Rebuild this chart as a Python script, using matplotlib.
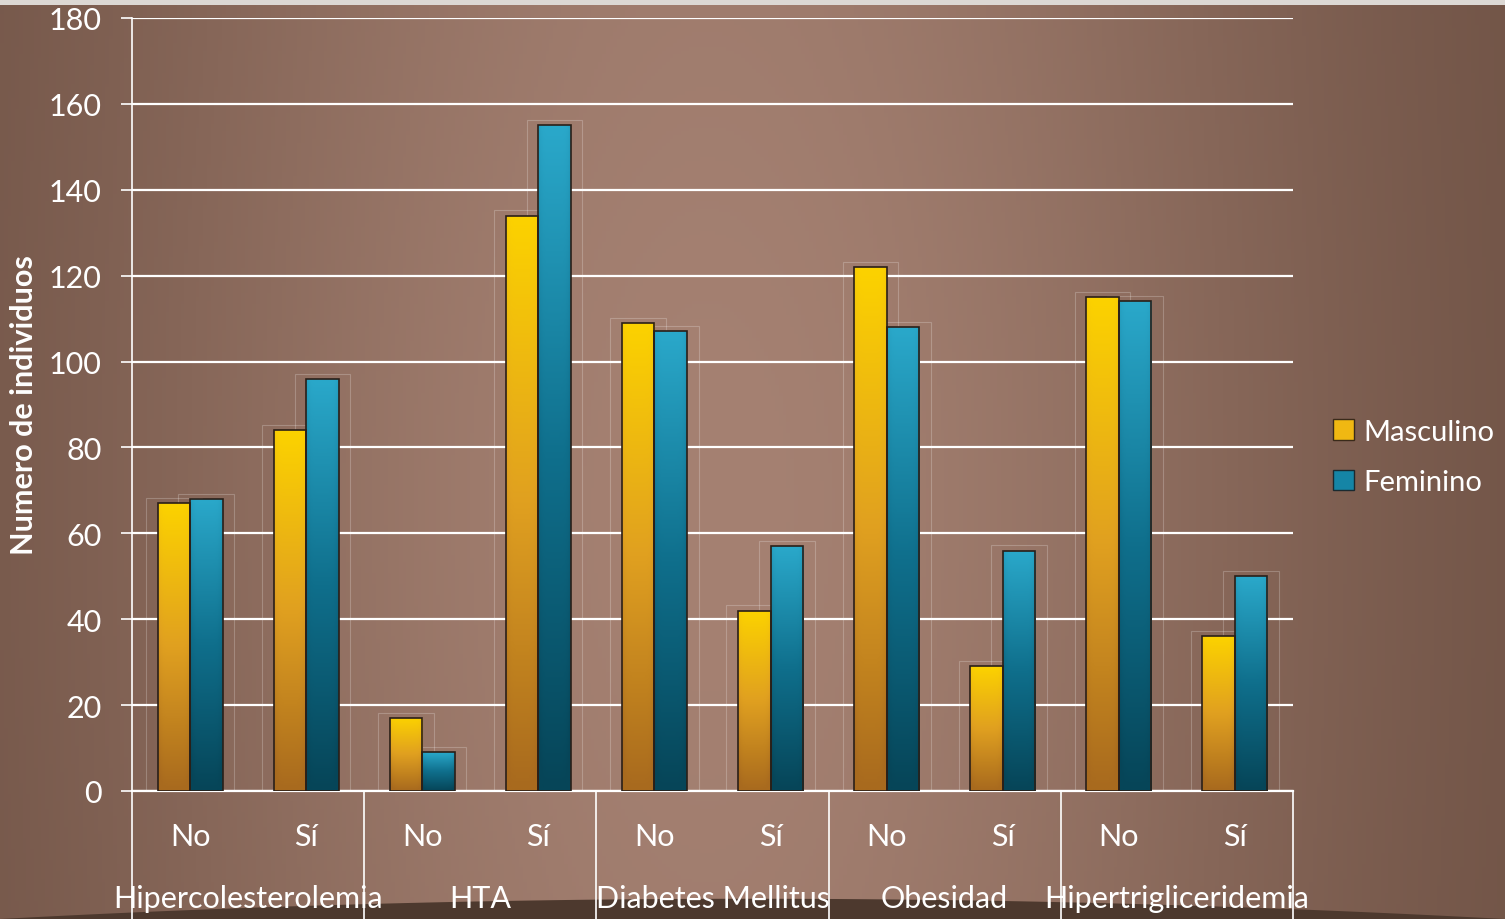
"""
Factores de riesgo por sexo: número de individuos (gráfico de barras agrupadas).
"""

import numpy as np
import matplotlib
matplotlib.use("Agg")
import matplotlib.pyplot as plt
from matplotlib.patches import Rectangle, Patch, Polygon
from matplotlib.colors import LinearSegmentedColormap

# Datos
grupos = ["Hipercolesterolemia", "HTA", "Diabetes Mellitus", "Obesidad", "Hipertrigliceridemia"]
respuestas = ["No", "Sí"]
masculino = [67, 84, 17, 134, 109, 42, 122, 29, 115, 36]
femenino = [68, 96, 9, 155, 107, 57, 108, 56, 114, 50]
series = ["Masculino", "Feminino"]
y_ticks = list(range(0, 181, 20))

plt.rcParams['font.family'] = ['Lato', 'DejaVu Sans']
FS = 22

fig = plt.figure(figsize=(15.05, 9.2), dpi=100)

# Fondo marrón con degradado
bg = fig.add_axes([0, 0, 1, 1], zorder=-10)
bg.set_axis_off()
xx = np.linspace(0, 1, 400)
yy = np.linspace(0, 1, 250)
X, Y = np.meshgrid(xx, yy)
t = np.exp(-((X - 0.47) / 0.42) ** 2) * (0.85 + 0.15 * np.exp(-((Y - 0.55) / 0.6) ** 2))
c_osc = np.array([0x68, 0x4c, 0x3f]) / 255
c_cla = np.array([0xa5, 0x81, 0x72]) / 255
img = c_osc[None, None, :] + (c_cla - c_osc)[None, None, :] * t[:, :, None]
bg.imshow(img, extent=[0, 1, 0, 1], origin='upper', aspect='auto')
# suelo oscuro y franja superior
arco_x = np.linspace(0, 1, 100)
arco_y = 0.0 + 0.022 * (1 - ((arco_x - 0.5) / 0.5) ** 2)
bg.add_patch(Polygon(np.column_stack([np.r_[arco_x, 1, 0], np.r_[arco_y, 0, 0]]),
                     closed=True, facecolor='#4d392e', edgecolor='none'))
bg.add_patch(Rectangle((0, 0.993), 1, 0.007, facecolor='#dcd8d4', edgecolor='none'))
bg.set_xlim(0, 1)
bg.set_ylim(0, 1)

ax = fig.add_axes([132 / 1505, 128 / 920, 1161 / 1505, 773 / 920])
ax.patch.set_alpha(0)

x = np.arange(len(masculino))
ancho = 0.28

cmap_m = LinearSegmentedColormap.from_list('m', ['#a86a1e', '#e0a020', '#fcd200'])
cmap_f = LinearSegmentedColormap.from_list('f', ['#064558', '#0f6f8c', '#2aa8ca'])
grad = np.linspace(0, 1, 100)[:, None] * np.ones((1, 20))
borde = np.abs(np.linspace(-1, 1, 20))[None, :]
grad = np.clip(grad - 0.08 * (borde ** 6), 0, 1)

for valores, offset, cmap in [(masculino, -ancho / 2, cmap_m), (femenino, ancho / 2, cmap_f)]:
    for xi, v in zip(x, valores):
        x0 = xi + offset - ancho / 2
        # caja tenue alrededor
        ax.add_patch(Rectangle((x0 - 0.1, 0), ancho + 0.2, v + 1.2, fill=False,
                               edgecolor=(1, 1, 1, 0.22), lw=0.8, zorder=2))
        rect = Rectangle((x0, 0), ancho, v, facecolor='none', edgecolor='#2a1f18',
                         lw=1.2, zorder=4)
        ax.add_patch(rect)
        im = ax.imshow(grad, extent=[x0, x0 + ancho, 0, v], origin='lower',
                       aspect='auto', cmap=cmap, vmin=0, vmax=1, zorder=3)
        im.set_clip_path(rect)

ax.set_xlim(-0.5, len(x) - 0.5)
ax.set_ylim(0, 180)
ax.set_yticks(y_ticks)
ax.yaxis.grid(True, color='white', lw=1.6)
ax.set_axisbelow(True)
ax.tick_params(axis='y', colors='white', labelsize=FS, length=8, width=1.2, pad=14)
ax.tick_params(axis='x', bottom=False, labelbottom=False)
for lab in ax.get_yticklabels():
    lab.set_color('white')
for s in ['top', 'right']:
    ax.spines[s].set_visible(False)
ax.spines['left'].set_color('white')
ax.spines['bottom'].set_color('white')
ax.spines['left'].set_linewidth(1.2)
ax.spines['bottom'].set_linewidth(1.6)

ax.set_ylabel('Numero de individuos', color='white', fontsize=FS, fontweight='bold')
ax.yaxis.set_label_coords(-0.081, 0.5)

# Eje de categorías de dos niveles
trans = ax.get_xaxis_transform()
for i, xi in enumerate(x):
    ax.text(xi, -0.058, respuestas[i % 2], transform=trans, ha='center', va='center',
            color='white', fontsize=FS)
for g, nombre in enumerate(grupos):
    ax.text(2 * g + 0.5, -0.138, nombre, transform=trans, ha='center', va='center',
            color='white', fontsize=FS)
for sep in np.arange(-0.5, len(x), 2):
    ax.plot([sep, sep], [0, -0.17], transform=trans, color='white', lw=1.2, clip_on=False)

# Leyenda
handles = [Patch(facecolor='#f0b812', edgecolor='#3a2a1a', label=series[0]),
           Patch(facecolor='#1585a6', edgecolor='#1a2a30', label=series[1])]
leg = fig.legend(handles=handles, loc='center left', bbox_to_anchor=(1307 / 1505, 1 - 458 / 920),
                 frameon=False, fontsize=21, labelcolor='white', handlelength=0.7,
                 handleheight=0.7, handletextpad=0.35, labelspacing=0.85)

fig.savefig('out.png', dpi=100)
